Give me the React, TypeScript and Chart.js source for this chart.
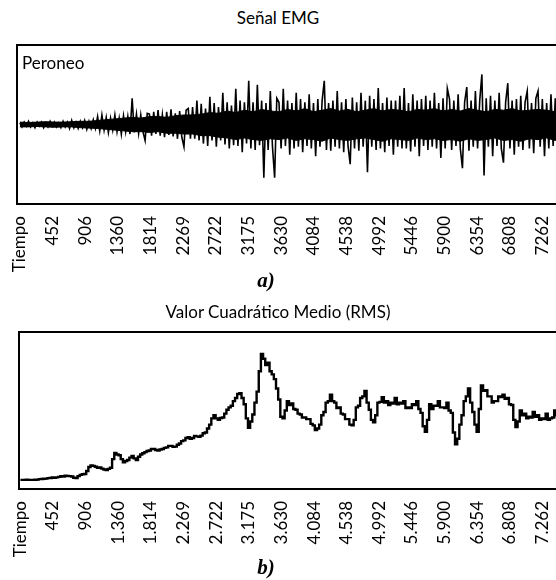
import React, { useEffect, useRef } from "react";
import { Chart, registerables } from "chart.js";

Chart.register(...registerables);

// ---- data ----
const TICK_VALUES = [0, 452, 906, 1360, 1814, 2269, 2722, 3175, 3630, 4084, 4538, 4992, 5446, 5900, 6354, 6808, 7262];
const TICK_LABELS_A = ["Tiempo", "452", "906", "1360", "1814", "2269", "2722", "3175", "3630", "4084", "4538", "4992", "5446", "5900", "6354", "6808", "7262"];
const TICK_LABELS_B = ["Tiempo", "452", "906", "1.360", "1.814", "2.269", "2.722", "3.175", "3.630", "4.084", "4.538", "4.992", "5.446", "5.900", "6.354", "6.808", "7.262"];

// EMG spikes (one value every EMG_STEP samples)
const EMG_STEP = 30;
const EMG_VALUES = [
  0.02, -0.03, 0.03, -0.02, 0.04, -0.03, 0.02, -0.04, 0.03, -0.02,
  0.03, -0.04, 0.02, -0.03, 0.04, -0.02, 0.03, -0.03, 0.02, -0.04,
  0.04, -0.03, 0.03, -0.05, 0.05, -0.04, 0.03, -0.05, 0.04, -0.04,
  0.05, -0.06, 0.04, -0.05, 0.06, -0.05, 0.1, -0.08, 0.12, -0.07,
  0.09, -0.1, 0.08, -0.07, 0.12, -0.09, 0.08, -0.12, 0.11, -0.09,
  0.1, -0.12, 0.33, -0.1, 0.13, -0.11, 0.12, -0.09, -0.2, 0.14,
  0.13, -0.14, 0.16, -0.12, 0.18, -0.14, 0.12, -0.16, 0.16, -0.13,
  0.19, -0.15, 0.14, -0.18, 0.17, -0.16, -0.28, 0.18, 0.2, -0.18,
  0.22, -0.18, 0.3, -0.2, 0.26, -0.24, 0.2, -0.27, 0.35, -0.2,
  0.27, -0.28, 0.22, -0.2, 0.4, -0.25, 0.28, -0.3, 0.24, -0.26,
  0.45, -0.27, 0.3, -0.35, 0.28, -0.24, 0.55, -0.3, 0.28, -0.32,
  0.5, -0.26, 0.3, -0.67, 0.27, -0.32, 0.42, -0.28, -0.67, 0.33,
  0.28, -0.3, 0.45, -0.27, 0.3, -0.38, 0.27, -0.3, 0.4, -0.28,
  0.32, -0.35, 0.28, -0.27, 0.38, -0.3, 0.27, -0.4, 0.32, -0.28,
  0.3, 0.55, -0.32, 0.27, -0.33, 0.3, -0.28, 0.42, -0.3, 0.28,
  -0.35, 0.32, -0.27, -0.5, 0.34, -0.3, 0.28, -0.33, 0.4, -0.28,
  0.3, -0.6, 0.36, -0.28, 0.32, -0.32, 0.46, -0.3, 0.27, -0.35,
  0.34, -0.27, 0.3, -0.38, 0.3, -0.28, 0.36, -0.3, 0.46, -0.3,
  0.27, -0.34, 0.38, -0.28, 0.3, -0.4, 0.32, -0.27, 0.36, -0.32,
  0.3, -0.28, 0.4, -0.3, 0.27, -0.42, 0.33, -0.3, 0.45, 0.32,
  -0.32, 0.3, -0.27, 0.38, -0.3, -0.55, 0.28, 0.47, -0.33, 0.3,
  -0.28, 0.42, -0.3, 0.3, 0.63, -0.64, 0.33, -0.28, 0.36, -0.4,
  0.3, -0.27, 0.4, -0.3, -0.48, 0.28, 0.52, -0.3, 0.3, -0.38,
  0.32, -0.28, 0.36, -0.32, 0.28, 0.42, -0.3, 0.27, -0.36, 0.33,
  0.42, -0.28, 0.32, -0.4, 0.27, -0.3, 0.38, -0.27, 0.33, -0.35,
  0.28, -0.32, 0.38, -0.27, 0.32, -0.3, 0.28,
];

// EMG dense core: upper / lower envelope (one value every CORE_STEP samples)
const CORE_STEP = 120;
const CORE_UPPER = [
  0.03, 0.025, 0.03, 0.035, 0.03, 0.03, 0.035, 0.04, 0.04, 0.05,
  0.06, 0.07, 0.08, 0.09, 0.08, 0.1, 0.1, 0.09, 0.11, 0.12,
  0.12, 0.13, 0.15, 0.14, 0.17, 0.15, 0.18, 0.16, 0.19, 0.17,
  0.16, 0.19, 0.17, 0.2, 0.16, 0.18, 0.2, 0.17, 0.19, 0.16,
  0.18, 0.2, 0.17, 0.19, 0.18, 0.16, 0.19, 0.18, 0.2, 0.17,
  0.19, 0.17, 0.2, 0.18, 0.16, 0.19, 0.18, 0.2, 0.17, 0.18,
  0.19, 0.18, 0.16, 0.19, 0.18,
];
const CORE_LOWER = [
  -0.03, -0.03, -0.025, -0.03, -0.035, -0.03, -0.03, -0.04, -0.045, -0.05,
  -0.06, -0.07, -0.08, -0.09, -0.09, -0.1, -0.09, -0.11, -0.11, -0.12,
  -0.12, -0.14, -0.14, -0.16, -0.17, -0.19, -0.17, -0.19, -0.2, -0.18,
  -0.19, -0.17, -0.2, -0.18, -0.19, -0.21, -0.17, -0.19, -0.2, -0.18,
  -0.17, -0.19, -0.21, -0.18, -0.19, -0.2, -0.17, -0.19, -0.18, -0.2,
  -0.19, -0.21, -0.18, -0.2, -0.19, -0.17, -0.2, -0.19, -0.21, -0.18,
  -0.19, -0.17, -0.2, -0.18, -0.19,
];

// RMS (one value every RMS_STEP samples)
const RMS_STEP = 30;
const RMS_VALUES = [
  5.8, 5.8, 5.8, 5.9, 5.8, 5.8, 5.8, 5.9, 6.0, 6.3,
  6.4, 6.5, 6.6, 6.9, 7.0, 7.3, 7.2, 7.4, 7.7, 8.1,
  8.0, 8.4, 8.3, 8.2, 8.0, 7.2, 7.0, 8.2, 9.0, 9.4,
  9.6, 11.5, 14.0, 15.0, 14.7, 14.2, 13.5, 13.8, 13.0, 12.4,
  12.0, 12.8, 13.5, 19.0, 23.0, 22.0, 21.5, 19.0, 17.0, 17.8,
  18.5, 20.0, 21.0, 19.5, 18.5, 20.5, 22.0, 22.8, 23.5, 24.2,
  24.5, 25.5, 25.5, 24.8, 24.5, 25.2, 25.5, 26.2, 26.5, 27.5,
  27.5, 26.8, 27.0, 28.2, 29.0, 30.5, 31.0, 32.5, 33.0, 32.0,
  32.5, 33.8, 33.5, 33.2, 34.0, 35.5, 36.0, 38.5, 41.0, 45.0,
  47.0, 45.0, 44.0, 45.2, 45.5, 48.0, 50.5, 52.0, 53.0, 56.0,
  58.0, 60.5, 61.0, 58.0, 54.0, 45.0, 39.0, 43.0, 47.5, 55.0,
  62.0, 75.0, 86.0, 83.0, 79.0, 80.5, 75.0, 73.0, 70.0, 64.0,
  57.0, 46.0, 45.0, 50.0, 56.0, 53.5, 54.5, 51.0, 50.5, 48.0,
  47.5, 45.5, 45.5, 44.5, 44.5, 41.5, 40.5, 37.5, 38.5, 41.0,
  47.0, 49.0, 55.0, 56.0, 60.0, 56.0, 55.0, 51.5, 52.0, 48.0,
  47.5, 44.5, 44.5, 41.0, 40.5, 44.0, 52.0, 53.0, 58.0, 59.0,
  62.5, 55.0, 50.5, 44.0, 42.5, 47.0, 55.0, 55.5, 58.5, 55.0,
  56.0, 53.5, 55.0, 54.5, 58.0, 54.0, 55.0, 54.5, 56.0, 51.5,
  52.0, 51.5, 54.0, 53.5, 56.0, 51.0, 48.5, 40.0, 36.5, 44.0,
  54.0, 51.0, 53.0, 53.0, 56.0, 52.0, 52.0, 51.5, 55.0, 50.0,
  48.5, 36.0, 28.5, 32.0, 41.0, 47.0, 56.0, 59.0, 64.0, 55.0,
  49.0, 41.0, 36.5, 51.0, 66.0, 62.5, 63.0, 59.0, 59.0, 55.0,
  56.0, 56.0, 59.0, 58.5, 60.0, 57.5, 58.0, 54.0, 53.5, 44.0,
  39.5, 43.0, 50.0, 47.0, 48.0, 45.0, 46.0, 45.5, 49.0, 46.0,
  47.0, 44.0, 45.0, 44.5, 48.0, 44.0, 45.0, 45.5, 50.0, 47.0,
  48.0, 45.0, 47.0, 46.5, 49.0, 46.0, 47.0,
];

const FONT = "Lato, 'Open Sans', sans-serif";
const AXIS_HEIGHT = 80;

const boxPlugin = {
  id: "frameBox",
  afterDraw(chart: any) {
    const { ctx, chartArea: a } = chart;
    ctx.save();
    ctx.strokeStyle = "#000";
    ctx.lineWidth = 2;
    ctx.strokeRect(a.left, a.top, a.right - a.left, a.bottom - a.top);
    ctx.restore();
  },
};

function toPoints(values: number[], step: number) {
  return values.map((v, i) => ({ x: i * step, y: v }));
}

function makeConfig(
  datasets: any[],
  labels: string[],
  yMin: number,
  yMax: number,
  xMin: number,
  padLeft: number,
  padTop: number
): any {
  return {
    type: "line",
    data: { datasets },
    options: {
      animation: false,
      responsive: false,
      devicePixelRatio: 1,
      layout: { padding: { left: padLeft, top: padTop, right: 10, bottom: 0 } },
      plugins: { legend: { display: false }, tooltip: { enabled: false }, title: { display: false } },
      scales: {
        x: {
          type: "linear",
          min: xMin,
          max: 7700,
          grid: { display: false, drawTicks: false },
          border: { display: false },
          afterBuildTicks: (s: any) => {
            s.ticks = TICK_VALUES.map((v) => ({ value: v }));
          },
          afterFit: (s: any) => {
            s.height = AXIS_HEIGHT;
          },
          ticks: {
            autoSkip: false,
            minRotation: 90,
            maxRotation: 90,
            padding: 12,
            color: "#000",
            font: { family: FONT, size: 17 },
            callback: (_v: any, i: number) => labels[i],
          },
        },
        y: { display: false, min: yMin, max: yMax },
      },
    },
    plugins: [boxPlugin],
  };
}

const emgDatasets = [
  {
    data: toPoints(CORE_UPPER, CORE_STEP),
    borderColor: "#000",
    backgroundColor: "#000",
    borderWidth: 1,
    pointRadius: 0,
    tension: 0,
    fill: "+1",
  },
  {
    data: toPoints(CORE_LOWER, CORE_STEP),
    borderColor: "#000",
    borderWidth: 1,
    pointRadius: 0,
    tension: 0,
    fill: false,
  },
  {
    data: toPoints(EMG_VALUES, EMG_STEP),
    borderColor: "#000",
    borderWidth: 1.6,
    pointRadius: 0,
    tension: 0,
    fill: false,
  },
];

const rmsDatasets = [
  {
    data: toPoints(RMS_VALUES, RMS_STEP),
    borderColor: "#000",
    borderWidth: 2.4,
    pointRadius: 0,
    tension: 0,
    stepped: "middle",
    fill: false,
  },
];

function ChartCanvas(props: { config: any; width: number; height: number; style: React.CSSProperties }) {
  const ref = useRef<HTMLCanvasElement | null>(null);
  useEffect(() => {
    if (!ref.current) return;
    const chart = new Chart(ref.current, props.config);
    return () => chart.destroy();
  }, []);
  return <canvas ref={ref} width={props.width} height={props.height} style={props.style} />;
}

export default function App() {
  const textBase: React.CSSProperties = {
    position: "absolute",
    fontFamily: FONT,
    color: "#000",
    whiteSpace: "nowrap",
  };
  const capStyle: React.CSSProperties = {
    position: "absolute",
    left: 0,
    width: 532,
    fontSize: 21,
    lineHeight: "24px",
    textAlign: "center",
    fontFamily: "'Liberation Serif', 'DejaVu Serif', serif",
    fontWeight: "bold",
    fontStyle: "italic",
    color: "#000",
  };
  // chart area bottoms: 204 (top chart) and 489 (bottom chart)
  const h1 = 204 + AXIS_HEIGHT;
  const h2 = 489 - 300 + AXIS_HEIGHT;
  return (
    <div
      style={{
        position: "absolute",
        left: 0,
        top: 0,
        width: 556,
        height: 580,
        overflow: "hidden",
        background: "#fff",
      }}
    >
      <div style={{ ...textBase, left: 0, width: 556, top: 8, fontSize: 17, lineHeight: "20px", textAlign: "center" }}>
        Señal EMG
      </div>
      <ChartCanvas
        config={makeConfig(emgDatasets, TICK_LABELS_A, -1, 1, -40, 17, 45)}
        width={584}
        height={h1}
        style={{ position: "absolute", left: 0, top: 0, width: 584, height: h1 }}
      />
      <div style={{ ...textBase, left: 22, top: 53, fontSize: 17, lineHeight: "20px" }}>Peroneo</div>
      <div style={{ ...capStyle, top: 268 }}>a)</div>
      <div style={{ ...textBase, left: 0, width: 556, top: 302, fontSize: 17, lineHeight: "20px", textAlign: "center" }}>
        Valor Cuadrático Medio (RMS)
      </div>
      <ChartCanvas
        config={makeConfig(rmsDatasets, TICK_LABELS_B, 0, 100, -20, 19, 32)}
        width={584}
        height={h2}
        style={{ position: "absolute", left: 0, top: 300, width: 584, height: h2 }}
      />
      <div style={{ ...capStyle, top: 555 }}>b)</div>
    </div>
  );
}
